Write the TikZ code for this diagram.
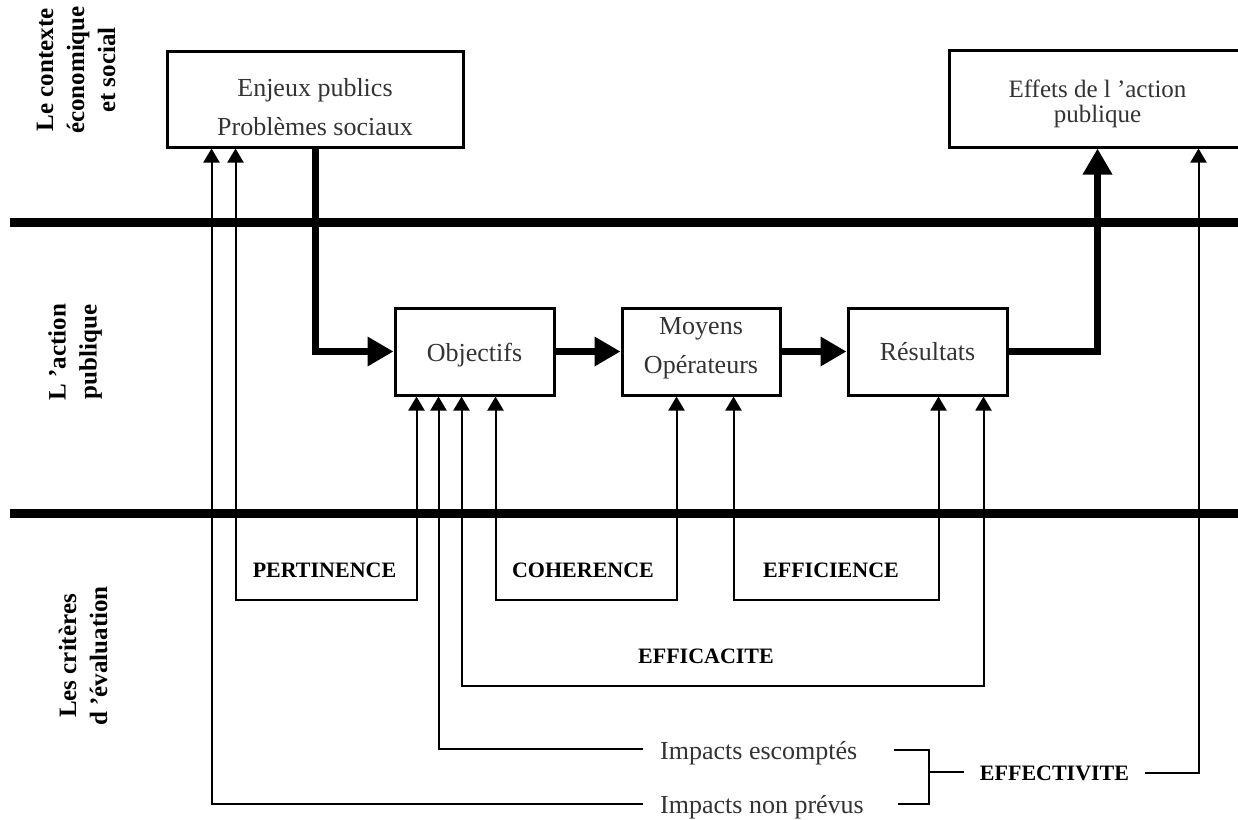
\documentclass[tikz,border=0pt]{standalone}
\usepackage{fontspec}
\setmainfont{Liberation Serif}
\usetikzlibrary{arrows.meta,calc}
\begin{document}
\begin{tikzpicture}[x=1pt,y=-1pt,
  box/.style={draw, line width=3pt, inner sep=0pt},
  boxtxt/.style={font=\fontsize{26}{39}\selectfont, text=black!80, align=center, inner sep=0pt},
  side/.style={font=\fontsize{25}{31}\selectfont\bfseries, rotate=90, align=center, inner sep=0pt},
  crit/.style={font=\fontsize{22}{26}\selectfont\bfseries, inner sep=0pt, anchor=base},
  imp/.style={font=\fontsize{26}{30}\selectfont, text=black!80, inner sep=0pt, anchor=base west},
  flow/.style={line width=7pt, -{Triangle[width=28pt,length=26pt]}},
  link/.style={line width=2pt, {Triangle[width=16pt,length=14pt]}-{Triangle[width=16pt,length=14pt]}},
  tolink/.style={line width=2pt, -{Triangle[width=16pt,length=14pt]}},
  brk/.style={line width=2.8pt},
  sep/.style={line width=9pt}
]
\useasboundingbox (0,0) rectangle (1238,819);
\clip (0,0) rectangle (1238,819);
\fill[white] (0,0) rectangle (1238,819);

% separators
\draw[sep] (10,222) -- (1260,222);
\draw[sep] (10,513) -- (1260,513);

% side labels
\node[side] (ctx) at (76,70) {Le contexte\\économique\\et social};
\node[side] (act) at (75,352) {L ’action\\publique};
\node[side] (crt) at (83,656) {Les critères\\d ’évaluation};

% boxes
\node[box, minimum width=296pt, minimum height=96pt] (enjeux) at (315,99) {};
\node[boxtxt] (enjeuxT) at ([yshift=-8pt]enjeux.center) {Enjeux publics\\Problèmes sociaux};
\node[box, minimum width=297pt, minimum height=97pt] (effets) at (1097.5,98.5) {};
\node[boxtxt, font=\fontsize{25}{25}\selectfont] (effetsT) at ([yshift=-5pt]effets.center) {Effets de l ’action\\publique};
\node[box, minimum width=159pt, minimum height=87pt] (obj) at (474.5,351.5) {};
\node[boxtxt] (objT) at ([yshift=-4pt]obj.center) {Objectifs};
\node[box, minimum width=158pt, minimum height=87pt] (moy) at (701,351.5) {};
\node[boxtxt] (moyT) at ([yshift=3pt]moy.center) {Moyens\\Opérateurs};
\node[box, minimum width=159pt, minimum height=87pt] (res) at (927.5,351.5) {};
\node[boxtxt] (resT) at (res.center) {Résultats};

% main flow
\draw[flow] (enjeux.south) |- (obj.west);
\draw[flow] (obj.east) -- (moy.west);
\draw[flow] (moy.east) -- (res.west);
\draw[flow] (res.east) -| (effets.south);

% attachment points
\coordinate (eN) at ([xshift=46pt]enjeux.south west);
\coordinate (eP) at ([xshift=70pt]enjeux.south west);
\coordinate (o1) at ([xshift=23pt]obj.south west);
\coordinate (o2) at ([xshift=45pt]obj.south west);
\coordinate (o3) at ([xshift=68pt]obj.south west);
\coordinate (o4) at ([xshift=102pt]obj.south west);
\coordinate (m1) at ([xshift=56pt]moy.south west);
\coordinate (m2) at ([xshift=113pt]moy.south west);
\coordinate (r1) at ([xshift=92pt]res.south west);
\coordinate (r2) at ([xshift=137pt]res.south west);
\coordinate (f1) at ([xshift=251pt]effets.south west);
\coordinate (y1) at (0,600);
\coordinate (y2) at (0,686);

% criteria labels
\node[crit] (pert) at (324.5,577) {PERTINENCE};
\node[crit] (coh) at (583,577) {COHERENCE};
\node[crit] (effi) at (831,577) {EFFICIENCE};
\node[crit] (effa) at (706,663) {EFFICACITE};
\node[crit, inner xsep=16pt] (effv) at (1054.5,780) {EFFECTIVITE};

% impacts
\node[imp] (iesc) at (660,759) {Impacts escomptés};
\node[imp] (inp) at (660,813) {Impacts non prévus};
\coordinate (ie) at (643,749);
\coordinate (in) at (643,804);
\coordinate (b1) at (894,750);
\coordinate (b2) at (898,804);
\coordinate (bx) at (929,772);

% criteria connectors
\draw[link] (eP) -- (eP |- y1) -| (o1);
\draw[link] (o4) -- (o4 |- y1) -| (m1);
\draw[link] (m2) -- (m2 |- y1) -| (r1);
\draw[link] (o3) -- (o3 |- y2) -| (r2);
\draw[tolink] (ie) -| (o2);
\draw[tolink] (in) -| (eN);
\draw[brk] (b1) -- (b1 -| bx) -- (b2 -| bx) -- (b2);
\draw[brk] (bx) -- (bx -| effv.west);
\draw[tolink] (effv.east) -| (f1);
\end{tikzpicture}
\end{document}
